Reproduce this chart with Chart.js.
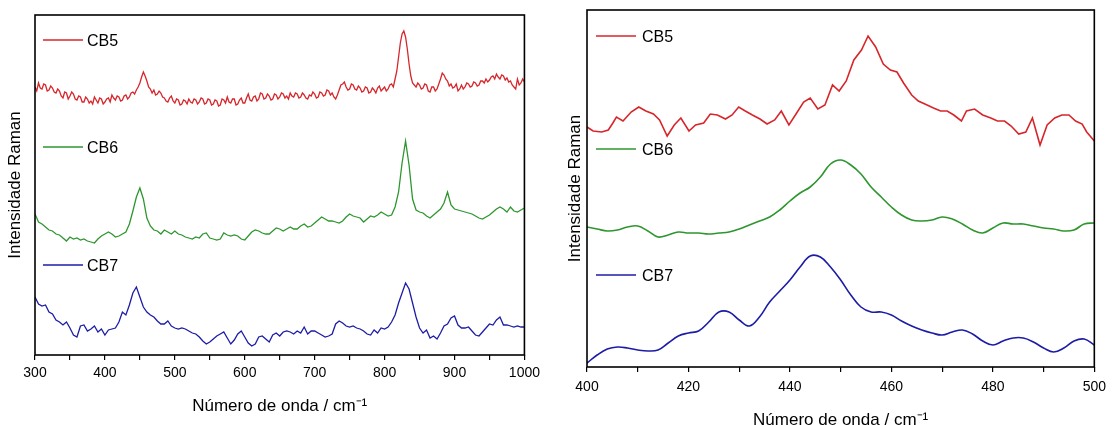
<!DOCTYPE html>
<html>
<head>
<meta charset="utf-8">
<script src="https://cdn.jsdelivr.net/npm/chart.js@4.4.1/dist/chart.umd.min.js"></script>
<style>
  html, body { margin: 0; padding: 0; background: #fff; overflow: hidden; }
  body { width: 1113px; height: 425px; position: relative; }
  #wrapLeft { position: absolute; left: 0; top: 0; width: 545px; height: 425px; }
  #wrapRight { position: absolute; left: 560px; top: 0; width: 553px; height: 440px; }
</style>
</head>
<body>
<div id="wrapLeft"><canvas id="leftChart"></canvas></div>
<div id="wrapRight"><canvas id="rightChart"></canvas></div>
<script>
// left panel: full spectrum 300-1000 cm-1 (intensity in arbitrary units, stacked)
const leftCB5Wavenumbers = [
  300,302.5,305,307.5,310,312.5,315,317.5,320,322.5,325,327.5,330,332.5,335,337.5,340,342.5,345,347.5,
  350,352.5,355,357.5,360,362.5,365,367.5,370,372.5,375,377.5,380,382.5,385,387.5,390,392.5,395,397.5,
  400,402.5,405,407.5,410,412.5,415,417.5,420,422.5,425,427.5,430,432.5,435,437.5,440,442.5,445,447.5,
  450,452.5,455,457.5,460,462.5,465,467.5,470,472.5,475,477.5,480,482.5,485,487.5,490,492.5,495,497.5,
  500,502.5,505,507.5,510,512.5,515,517.5,520,522.5,525,527.5,530,532.5,535,537.5,540,542.5,545,547.5,
  550,552.5,555,557.5,560,562.5,565,567.5,570,572.5,575,577.5,580,582.5,585,587.5,590,592.5,595,597.5,
  600,602.5,605,607.5,610,612.5,615,617.5,620,622.5,625,627.5,630,632.5,635,637.5,640,642.5,645,647.5,
  650,652.5,655,657.5,660,662.5,665,667.5,670,672.5,675,677.5,680,682.5,685,687.5,690,692.5,695,697.5,
  700,702.5,705,707.5,710,712.5,715,717.5,720,722.5,725,727.5,730,732.5,735,737.5,740,742.5,745,747.5,
  750,752.5,755,757.5,760,762.5,765,767.5,770,772.5,775,777.5,780,782.5,785,787.5,790,792.5,795,797.5,
  800,802.5,805,807.5,810,812.5,815,817.5,820,822.5,825,827.5,830,832.5,835,837.5,840,842.5,845,847.5,
  850,852.5,855,857.5,860,862.5,865,867.5,870,872.5,875,877.5,880,882.5,885,887.5,890,892.5,895,897.5,
  900,902.5,905,907.5,910,912.5,915,917.5,920,922.5,925,927.5,930,932.5,935,937.5,940,942.5,945,947.5,
  950,952.5,955,957.5,960,962.5,965,967.5,970,972.5,975,977.5,980,982.5,985,987.5,990,992.5,995,997.5,
  1000
];
const leftCB5 = [
  268,264,272,267,266,271,270,264,265,269,267,263,262,266,264,259,257,263,262,256,
  259,263,261,256,255,259,258,253,253,258,256,252,254,251,258,255,252,257,256,251,
  253,256,257,253,260,257,255,259,258,254,255,259,260,256,258,262,263,261,265,268,
  272,278,283,279,274,268,266,262,265,260,261,264,262,258,257,254,253,257,259,254,
  252,256,255,250,251,255,254,251,256,253,252,256,255,251,253,257,256,251,252,256,
  255,250,251,255,254,249,250,256,255,252,258,253,252,256,256,250,251,255,257,252,
  252,257,261,255,254,258,259,254,256,262,261,256,257,261,259,255,256,261,260,256,
  258,262,261,257,259,256,262,259,258,262,261,257,258,262,260,257,256,260,259,263,
  261,257,258,263,262,259,260,265,264,260,262,258,256,260,265,270,271,273,268,265,
  266,271,270,266,265,269,267,263,264,268,267,262,263,267,265,262,267,269,264,266,
  268,264,266,270,271,268,276,284,298,312,321,324,318,306,291,279,272,270,268,272,
  270,266,267,271,270,264,263,268,268,264,266,271,276,282,280,276,274,269,271,267,
  268,271,264,266,270,266,268,272,271,268,269,273,272,269,270,274,274,272,276,273,
  275,278,279,276,281,278,276,280,279,275,277,273,274,270,268,266,276,270,272,276,
  273
];
const leftWavenumbers = [
  300,305,310,315,320,325,330,335,340,345,350,355,360,365,370,375,380,385,390,395,
  400,405,410,415,420,425,430,435,440,445,450,455,460,465,470,475,480,485,490,495,
  500,505,510,515,520,525,530,535,540,545,550,555,560,565,570,575,580,585,590,595,
  600,605,610,615,620,625,630,635,640,645,650,655,660,665,670,675,680,685,690,695,
  700,705,710,715,720,725,730,735,740,745,750,755,760,765,770,775,780,785,790,795,
  800,805,810,815,820,825,830,835,840,845,850,855,860,865,870,875,880,885,890,895,
  900,905,910,915,920,925,930,935,940,945,950,955,960,965,970,975,980,985,990,995,
  1000
];
const leftCB6 = [
  141,133,131,128,125,124,121,120,117,114,118,116,117,115,116,114,113,112,116,119,
  121,123,121,118,119,121,123,131,144,158,167,156,137,129,125,124,121,125,123,121,
  124,121,120,118,117,116,118,117,121,122,117,116,115,116,122,120,119,120,119,116,
  115,119,123,125,124,122,121,121,124,127,126,124,126,128,126,126,129,131,128,129,
  132,135,138,136,134,134,133,132,134,138,141,139,138,137,133,136,139,138,140,143,
  141,139,140,148,163,192,214,190,156,145,143,142,139,137,140,143,146,152,163,150,
  146,145,144,143,142,141,139,137,136,138,140,143,146,148,146,143,148,144,143,145,
  147
];
const leftCB7 = [
  58,51,49,50,43,41,35,33,30,33,27,20,18,29,30,24,26,29,23,26,
  20,25,26,27,33,43,40,50,62,68,58,48,43,40,38,34,31,31,34,29,
  27,26,27,26,24,22,21,18,14,11,13,16,19,21,23,17,11,15,21,24,
  18,12,9,11,18,19,16,13,20,22,19,23,24,23,21,24,22,28,21,24,
  24,22,20,18,19,21,31,34,32,29,28,29,27,26,24,21,20,25,22,27,
  26,28,33,40,52,62,72,66,52,38,27,22,25,17,19,16,22,29,31,37,
  39,30,27,27,28,24,20,19,23,27,31,30,35,38,30,30,29,28,29,28,
  28
];

// right panel: zoom 400-500 cm-1
const rightCB5Wavenumbers = [
  400.0,401.2,402.9,404.2,405.1,405.8,407.1,408.7,410.2,411.6,413.1,414.3,415.8,417.2,418.5,
  420.1,421.4,423.0,424.3,425.7,427.3,428.6,429.9,431.2,432.6,434.1,435.5,437.0,438.3,439.8,
  441.2,442.7,444.0,445.5,446.9,448.4,449.7,451.1,452.6,454.1,455.4,456.9,458.4,459.8,461.1,
  462.4,464.0,465.3,466.6,468.3,469.7,471.0,472.3,473.8,474.8,476.4,478.0,479.6,480.9,482.3,
  483.6,485.1,486.5,487.8,489.3,490.7,492.2,493.6,495.0,496.3,497.6,498.5,500.0
];
const rightCB5 = [
  240,236,235,237,244,250,246,255,260,256,253,247,231,242,249,
  236,242,244,253,252,248,252,260,256,252,248,243,247,256,242,
  253,265,269,258,262,282,276,286,307,317,331,320,303,297,295,
  284,272,266,263,259,256,256,252,246,256,258,252,249,246,246,
  241,233,235,249,222,242,249,252,252,246,243,235,226
];
const rightWavenumbers = [
  400,402,404,406,408,410,412,414,416,418,420,422,424,426,428,430,432,434,436,438,
  440,442,444,446,448,450,452,454,456,458,460,462,464,466,468,470,472,474,476,478,
  480,482,484,486,488,490,492,494,496,498,500
];
const rightCB6 = [
  140,138,136,137,140,141,136,130,132,135,134,134,133,134,135,138,142,146,150,157,
  166,174,180,190,203,207,202,193,180,170,160,152,147,146,147,150,148,143,137,134,
  139,144,143,143,141,139,138,136,137,143,144
];
const rightCB7 = [
  4,12,18,20,19,17,16,17,24,31,34,36,45,55,55,47,41,50,65,76,
  87,100,111,110,100,87,72,60,55,55,52,46,41,37,34,32,35,37,33,26,
  22,26,29,29,25,19,15,19,26,28,22
];

const labels = ['CB5', 'CB6', 'CB7'];
const colors = ['#d7262b', '#2e962e', '#1c1ca6'];
const fontFamily = '"Liberation Sans", Arial, sans-serif';

Chart.defaults.font.family = fontFamily;
Chart.defaults.color = '#000';

function points(xs, ys) {
    return xs.map((x, i) => ({ x: x, y: ys[i] }));
}

// box around the plot + the in-plot series labels
const frameAndLabels = {
    id: 'frameAndLabels',
    afterDatasetsDraw(chart, args, opts) {
        const { ctx, chartArea } = chart;
        ctx.save();
        ctx.strokeStyle = '#000';
        ctx.lineWidth = 1.6;
        ctx.strokeRect(chartArea.left, chartArea.top, chartArea.right - chartArea.left, chartArea.bottom - chartArea.top);
        ctx.font = '16px ' + fontFamily;
        ctx.textBaseline = 'middle';
        chart.data.datasets.forEach((ds, i) => {
            const y = chartArea.top + opts.labelY[i];
            const x0 = chartArea.left + opts.lineStart;
            ctx.strokeStyle = ds.borderColor;
            ctx.lineWidth = 1.5;
            ctx.beginPath();
            ctx.moveTo(x0, y);
            ctx.lineTo(x0 + 40, y);
            ctx.stroke();
            ctx.fillStyle = '#000';
            ctx.fillText(ds.label, x0 + opts.textGap, y + 2);
        });
        ctx.restore();
    }
};

function axes(cfg) {
    return {
        x: {
            type: 'linear',
            min: cfg.xMin,
            max: cfg.xMax,
            afterFit: s => { s.height = cfg.xHeight; },
            ticks: {
                stepSize: cfg.minorStep,
                autoSkip: false,
                maxRotation: 0,
                padding: cfg.tickPad,
                font: { size: 14 },
                color: '#000',
                callback: v => (v % cfg.majorStep === 0 ? v : '')
            },
            grid: { drawOnChartArea: false, tickLength: 5, color: '#000', lineWidth: 1.2 },
            border: { display: false },
            title: {
                display: true,
                text: 'Número de onda / cm⁻¹',
                font: { size: 17 },
                color: '#000',
                padding: { top: 0, bottom: cfg.titlePad }
            }
        },
        y: {
            min: 0,
            max: cfg.yMax,
            afterFit: s => { s.width = cfg.yWidth; },
            ticks: { display: false },
            grid: { display: false },
            border: { display: false },
            title: {
                display: true,
                text: 'Intensidade Raman',
                font: { size: 17 },
                color: '#000',
                padding: { top: 5, bottom: 0 }
            }
        }
    };
}

const leftChart = new Chart(document.getElementById('leftChart').getContext('2d'), {
    type: 'line',
    data: {
        datasets: [
            { label: labels[0], data: points(leftCB5Wavenumbers, leftCB5), borderColor: colors[0] },
            { label: labels[1], data: points(leftWavenumbers, leftCB6), borderColor: colors[1] },
            { label: labels[2], data: points(leftWavenumbers, leftCB7), borderColor: colors[2] }
        ]
    },
    options: {
        responsive: true,
        maintainAspectRatio: false,
        animation: false,
        parsing: false,
        elements: { point: { radius: 0 }, line: { borderWidth: 1.3, tension: 0 } },
        layout: { padding: { top: 15, right: 20, bottom: 0, left: 0 } },
        plugins: {
            legend: { display: false },
            tooltip: { enabled: false },
            frameAndLabels: { labelY: [25, 132, 250], lineStart: 8, textGap: 44 }
        },
        scales: axes({ xMin: 300, xMax: 1000, minorStep: 50, majorStep: 100, xHeight: 70, tickPad: 5, titlePad: 8, yMax: 340, yWidth: 35 })
    },
    plugins: [frameAndLabels]
});

const rightChart = new Chart(document.getElementById('rightChart').getContext('2d'), {
    type: 'line',
    data: {
        datasets: [
            { label: labels[0], data: points(rightCB5Wavenumbers, rightCB5), borderColor: colors[0], tension: 0 },
            { label: labels[1], data: points(rightWavenumbers, rightCB6), borderColor: colors[1], tension: 0.4 },
            { label: labels[2], data: points(rightWavenumbers, rightCB7), borderColor: colors[2], tension: 0.4 }
        ]
    },
    options: {
        responsive: true,
        maintainAspectRatio: false,
        animation: false,
        parsing: false,
        elements: { point: { radius: 0 }, line: { borderWidth: 1.6 } },
        layout: { padding: { top: 10, right: 14, bottom: 0, left: 0 } },
        plugins: {
            legend: { display: false },
            tooltip: { enabled: false },
            frameAndLabels: { labelY: [26, 139, 265], lineStart: 9, textGap: 46 }
        },
        scales: axes({ xMin: 400, xMax: 500, minorStep: 10, majorStep: 20, xHeight: 73, tickPad: 7, titlePad: 9, yMax: 357, yWidth: 27 })
    },
    plugins: [frameAndLabels]
});
</script>
</body>
</html>
